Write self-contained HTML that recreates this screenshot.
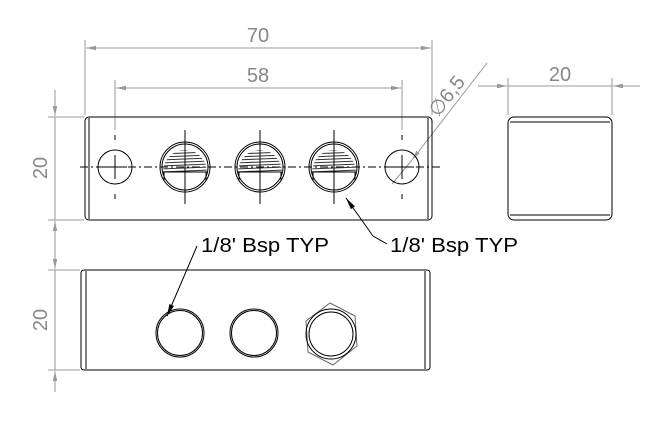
<!DOCTYPE html>
<html><head><style>
body{margin:0;background:#fff}
svg text{font-family:"Liberation Sans",sans-serif}
</style></head><body>
<svg width="667" height="438" viewBox="0 0 667 438" xmlns="http://www.w3.org/2000/svg">
<defs>
<marker id="ag" markerWidth="10" markerHeight="6" refX="10" refY="3" orient="auto-start-reverse" markerUnits="userSpaceOnUse"><path d="M0,0.8L10,3L0,5.2z" fill="#999"/></marker>
<marker id="ab" markerWidth="12" markerHeight="6" refX="12" refY="3" orient="auto" markerUnits="userSpaceOnUse"><path d="M0,0.5L12,3L0,5.5z" fill="#000"/></marker>
<clipPath id="cp"><path d="M163,172 A22,22 0 0 1 207,172 Z"/></clipPath>
</defs>
<g stroke="#999" stroke-width="1" fill="none">
<line x1="85" y1="40" x2="85" y2="115"/><line x1="432" y1="40" x2="432" y2="115"/>
<line x1="86" y1="48" x2="431" y2="48" marker-start="url(#ag)" marker-end="url(#ag)"/>
<line x1="115" y1="80" x2="115" y2="130"/><line x1="402" y1="80" x2="402" y2="130"/>
<line x1="116" y1="88" x2="401" y2="88" marker-start="url(#ag)" marker-end="url(#ag)"/>
<line x1="48" y1="117" x2="84" y2="117"/><line x1="48" y1="220" x2="84" y2="220"/>
<line x1="55" y1="90" x2="55" y2="116" marker-end="url(#ag)"/><line x1="55" y1="248" x2="55" y2="221" marker-end="url(#ag)"/>
<line x1="55" y1="117" x2="55" y2="220"/>
<line x1="48" y1="270" x2="80" y2="270"/><line x1="48" y1="370" x2="80" y2="370"/>
<line x1="55" y1="248" x2="55" y2="269" marker-end="url(#ag)"/><line x1="55" y1="392" x2="55" y2="371" marker-end="url(#ag)"/>
<line x1="55" y1="270" x2="55" y2="370"/>
<line x1="508" y1="78" x2="508" y2="115"/><line x1="612" y1="78" x2="612" y2="115"/>
<line x1="478" y1="86" x2="507" y2="86" marker-end="url(#ag)"/><line x1="640" y1="86" x2="613" y2="86" marker-end="url(#ag)"/>
<line x1="508" y1="86" x2="612" y2="86"/>
<line x1="487" y1="63" x2="412" y2="160" marker-end="url(#ag)"/>
<line x1="412" y1="160" x2="392" y2="184"/>
</g>
<g fill="#888" font-size="20">
<text x="258" y="42" text-anchor="middle">70</text>
<text x="258" y="82" text-anchor="middle">58</text>
<text x="560" y="81" text-anchor="middle">20</text>
<text transform="translate(47,168) rotate(-90)" text-anchor="middle">20</text>
<text transform="translate(47,320) rotate(-90)" text-anchor="middle">20</text>
<text transform="translate(452,100) rotate(-52)" text-anchor="middle">∅6,5</text>
</g>
<g stroke="#000" stroke-width="1" fill="none">
<rect x="85" y="117" width="347" height="103" rx="4"/>
<line x1="89" y1="118" x2="89" y2="219"/><line x1="428" y1="118" x2="428" y2="219"/>
<line x1="80" y1="167" x2="440" y2="167" stroke-dasharray="8,3,2,3"/>
<circle cx="115" cy="167" r="17"/><line x1="103" y1="167" x2="127" y2="167"/><line x1="115" y1="155" x2="115" y2="179"/>
<circle cx="402" cy="167" r="17"/><line x1="390" y1="167" x2="414" y2="167"/><line x1="402" y1="155" x2="402" y2="179"/>
<line x1="115" y1="135" x2="115" y2="140"/><line x1="115" y1="194" x2="115" y2="199"/>
<line x1="402" y1="135" x2="402" y2="140"/><line x1="402" y1="194" x2="402" y2="199"/>
<g id="th">
<circle cx="185" cy="167" r="25"/><circle cx="185" cy="167" r="23"/>
<g clip-path="url(#cp)" stroke="#333" stroke-width="1.1">
<path d="M160,148L210,146M160,151L210,149M160,154L210,152M160,157L210,155M160,160L210,158M160,163L210,161M160,166L210,164M160,169L210,167M160,172L210,170"/>
</g>
<path d="M163,172 L207,172 M164,172 L164,181 M206,172 L206,181"/>
<line x1="185" y1="130" x2="185" y2="204"/>
</g>
<use href="#th" x="75"/><use href="#th" x="149"/>
<rect x="508" y="117" width="104" height="103" rx="6"/>
<line x1="510" y1="122" x2="610" y2="122"/><line x1="510" y1="215" x2="610" y2="215"/>
<rect x="81" y="270" width="349" height="100" rx="3"/>
<line x1="86" y1="271" x2="86" y2="369"/><line x1="425" y1="271" x2="425" y2="369"/>
<circle cx="180" cy="333" r="24"/><circle cx="180" cy="333" r="22.5"/>
<circle cx="254" cy="333" r="24"/><circle cx="254" cy="333" r="22.5"/>
<polygon points="330,303 355,316 357,346 333,365 308,352 306,321" stroke="#666"/>
<circle cx="331" cy="334" r="25"/><circle cx="331" cy="334" r="22"/>
<line x1="387" y1="244" x2="373" y2="236"/>
<line x1="373" y1="236" x2="346" y2="198" marker-end="url(#ab)"/>
<line x1="197" y1="246" x2="167" y2="316" marker-end="url(#ab)"/>
</g>
<g fill="#000" font-size="20">
<text x="390" y="252" textLength="128" lengthAdjust="spacingAndGlyphs">1/8' Bsp TYP</text>
<text x="201" y="252" textLength="128" lengthAdjust="spacingAndGlyphs">1/8' Bsp TYP</text>
</g>
</svg>
</body></html>
